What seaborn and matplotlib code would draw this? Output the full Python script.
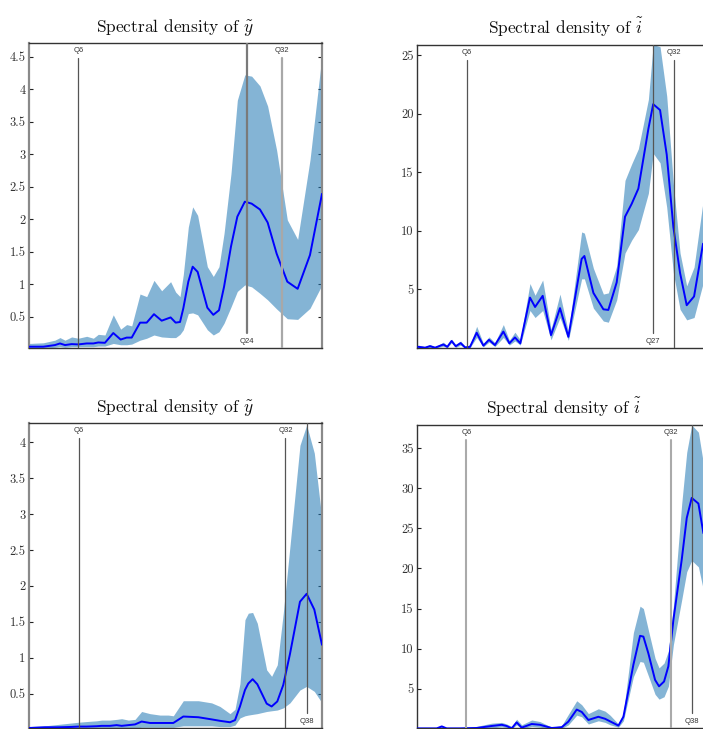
import numpy as np
import matplotlib
matplotlib.use("Agg")
import matplotlib.pyplot as plt
import matplotlib.ticker as mticker
import matplotlib.transforms as mtransforms
import seaborn as sns

# ---------------- data (periods in quarters, log-spaced x axis) ----------------
tl_period = [4.0, 4.5, 4.95, 5.16, 5.38, 5.68, 6.0, 6.43, 6.79, 7.07, 7.47, 8.0, 8.5, 8.93,
             9.31, 9.97, 10.53, 11.18, 11.91, 12.82, 13.36, 13.85, 14.23, 14.83, 15.37, 16.01,
             17.34, 18.21, 19.08, 19.89, 21.06, 22.19, 23.6, 24.96, 26.73, 28.47, 30.66, 33.47,
             36.44, 40.33, 44.52]
tl_median = [0.04, 0.04, 0.065, 0.09, 0.065, 0.08, 0.075, 0.09, 0.09, 0.105, 0.10, 0.25, 0.15, 0.18,
             0.18, 0.41, 0.41, 0.54, 0.44, 0.49, 0.41, 0.42, 0.63, 1.04, 1.27, 1.19,
             0.64, 0.53, 0.60, 0.96, 1.58, 2.04, 2.27, 2.24, 2.15, 1.95, 1.47, 1.04,
             0.93, 1.45, 2.39]
tl_upper = [0.09, 0.10, 0.14, 0.18, 0.14, 0.19, 0.17, 0.20, 0.17, 0.23, 0.22, 0.53, 0.31, 0.38,
            0.36, 0.85, 0.81, 1.06, 0.90, 1.04, 0.88, 0.81, 1.15, 1.88, 2.19, 2.06,
            1.27, 1.12, 1.27, 1.78, 2.70, 3.83, 4.22, 4.20, 4.05, 3.74, 3.06, 1.99,
            1.69, 2.91, 4.52]
tl_lower = [0.02, 0.02, 0.03, 0.04, 0.03, 0.04, 0.04, 0.04, 0.04, 0.05, 0.05, 0.09, 0.07, 0.07,
            0.08, 0.14, 0.17, 0.22, 0.19, 0.18, 0.18, 0.23, 0.30, 0.55, 0.56, 0.53,
            0.30, 0.22, 0.27, 0.40, 0.65, 0.89, 0.99, 0.96, 0.86, 0.76, 0.62, 0.47,
            0.46, 0.63, 0.99]

tr_period = [4.04, 4.27, 4.44, 4.63, 4.95, 5.11, 5.29, 5.47, 5.69, 5.90, 6.14, 6.48, 6.84, 7.16,
             7.51, 8.04, 8.44, 8.83, 9.22, 9.97, 10.39, 11.05, 11.82, 12.71, 13.60, 15.14,
             15.48, 16.65, 18.05, 18.79, 20.10, 21.50, 22.69, 23.95, 25.97, 27.0, 28.54,
             30.12, 31.79, 33.55, 35.40, 37.57, 40.40]
tr_median = [0.10, 0.03, 0.16, 0.03, 0.30, 0.10, 0.60, 0.15, 0.42, 0.05, 0.10, 1.30, 0.20, 0.70,
             0.25, 1.40, 0.40, 0.90, 0.40, 4.30, 3.50, 4.45, 1.10, 3.40, 0.95, 7.60,
             7.85, 4.70, 3.30, 3.25, 5.60, 11.20, 12.30, 13.60, 18.70, 20.80, 20.30,
             16.50, 10.30, 6.40, 3.65, 4.40, 8.90]
tr_upper = [0.25, 0.10, 0.30, 0.10, 0.50, 0.20, 0.75, 0.30, 0.60, 0.15, 0.25, 1.85, 0.40, 0.95,
            0.45, 2.00, 0.65, 1.35, 0.70, 5.50, 4.50, 5.80, 1.60, 4.60, 1.35, 9.90,
            9.80, 6.80, 4.60, 4.70, 7.00, 14.30, 15.70, 17.00, 21.20, 25.90, 25.70,
            21.50, 14.00, 8.10, 5.30, 6.90, 12.50]
tr_lower = [0.02, 0.0, 0.05, 0.0, 0.15, 0.03, 0.45, 0.05, 0.25, 0.0, 0.03, 0.90, 0.10, 0.50,
            0.12, 0.90, 0.25, 0.60, 0.25, 3.20, 2.60, 3.20, 0.70, 2.60, 0.65, 5.90,
            5.90, 3.40, 2.30, 2.20, 4.10, 8.10, 9.20, 10.10, 13.20, 16.60, 15.80,
            12.00, 6.40, 3.30, 2.40, 2.60, 5.50]

bl_period = [4.0, 4.55, 5.07, 5.65, 5.97, 6.38, 6.92, 7.21, 7.71, 8.14, 8.48, 8.95, 9.45, 9.97,
             10.67, 11.57, 12.38, 12.89, 13.98, 15.79, 17.59, 18.82, 19.60, 20.41, 21.26,
             22.13, 23.05, 23.68, 24.52, 25.47, 27.48, 28.61, 29.95, 31.44, 33.19, 36.0,
             38.0, 40.44, 43.04]
bl_median = [0.02, 0.03, 0.03, 0.035, 0.04, 0.04, 0.045, 0.05, 0.05, 0.06, 0.05, 0.06, 0.07, 0.11,
             0.09, 0.09, 0.09, 0.09, 0.18, 0.17, 0.14, 0.12, 0.11, 0.10, 0.13,
             0.32, 0.55, 0.64, 0.70, 0.63, 0.36, 0.32, 0.39, 0.62, 1.05, 1.78,
             1.89, 1.67, 1.18]
bl_upper = [0.04, 0.05, 0.07, 0.09, 0.10, 0.11, 0.12, 0.13, 0.13, 0.14, 0.15, 0.13, 0.14, 0.25,
            0.22, 0.20, 0.20, 0.19, 0.40, 0.40, 0.37, 0.32, 0.27, 0.22, 0.28,
            0.64, 1.53, 1.62, 1.63, 1.48, 0.83, 0.74, 0.90, 1.62, 2.55, 3.96,
            4.24, 3.85, 2.92]
bl_lower = [0.0, 0.0, 0.0, 0.01, 0.01, 0.01, 0.01, 0.01, 0.01, 0.02, 0.01, 0.02, 0.02, 0.03,
            0.03, 0.03, 0.03, 0.03, 0.05, 0.05, 0.05, 0.04, 0.04, 0.04, 0.06,
            0.16, 0.19, 0.20, 0.21, 0.22, 0.25, 0.26, 0.27, 0.30, 0.37, 0.55,
            0.60, 0.53, 0.37]

br_period = [4.0, 4.33, 4.70, 4.90, 5.10, 5.69, 6.52, 7.37, 8.01, 8.34, 8.69, 9.05, 9.43, 10.24,
             10.96, 12.06, 13.09, 13.83, 14.81, 15.43, 16.29, 17.68, 18.68, 19.46, 20.84,
             21.71, 23.56, 24.88, 25.57, 26.64, 28.14, 29.07, 30.29, 31.38, 32.70, 35.01,
             36.48, 38.0, 40.14, 41.82]
br_median = [0.05, 0.05, 0.05, 0.30, 0.05, 0.05, 0.10, 0.35, 0.50, 0.35, 0.05, 0.80, 0.15, 0.60,
             0.50, 0.10, 0.20, 0.90, 2.40, 2.10, 1.10, 1.50, 1.25, 0.93, 0.40,
             1.50, 8.00, 11.60, 11.50, 9.40, 6.10, 5.30, 5.90, 7.80, 13.60, 21.10,
             26.30, 28.80, 28.10, 24.40]
br_upper = [0.10, 0.10, 0.10, 0.40, 0.15, 0.15, 0.30, 0.70, 0.80, 0.60, 0.30, 1.20, 0.50, 1.10,
            0.90, 0.20, 0.40, 1.80, 3.50, 3.00, 1.90, 2.50, 2.20, 1.70, 0.60,
            2.00, 12.00, 15.30, 15.00, 12.30, 8.80, 7.60, 8.20, 9.70, 15.30, 28.10,
            34.50, 37.90, 37.00, 33.10]
br_lower = [0.0, 0.0, 0.0, 0.15, 0.0, 0.0, 0.0, 0.10, 0.25, 0.15, 0.0, 0.50, 0.0, 0.30,
            0.20, 0.0, 0.05, 0.50, 1.70, 1.50, 0.60, 1.00, 0.80, 0.50, 0.20,
            1.00, 6.50, 8.40, 8.30, 6.60, 4.30, 3.70, 4.00, 5.30, 10.50, 16.10,
            19.60, 21.00, 20.20, 17.30]

titles = [r"Spectral density of $\tilde{y}$", r"Spectral density of $\tilde{i}$",
          r"Spectral density of $\tilde{y}$", r"Spectral density of $\tilde{i}$"]
yticks_tl = [0.5, 1, 1.5, 2, 2.5, 3, 3.5, 4, 4.5]
yticks_tr = [5, 10, 15, 20, 25]
yticks_bl = [0.5, 1, 1.5, 2, 2.5, 3, 3.5, 4]
yticks_br = [5, 10, 15, 20, 25, 30, 35]
marks_tl = [("Q6", 6, "top"), ("Q24", 24, "bottom"), ("Q32", 32, "top")]
marks_tr = [("Q6", 6, "top"), ("Q27", 27, "bottom"), ("Q32", 32, "top")]
marks_bl = [("Q6", 6, "top"), ("Q32", 32, "top"), ("Q38", 38, "bottom")]
marks_br = [("Q6", 6, "top"), ("Q32", 32, "top"), ("Q38", 38, "bottom")]

# ---------------- style ----------------
sns.set_theme(style="white")
plt.rcParams["font.family"] = ["cmr10", "DejaVu Serif"]
plt.rcParams["mathtext.fontset"] = "cm"
plt.rcParams["axes.formatter.use_mathtext"] = True
plt.rcParams["axes.unicode_minus"] = False

W, H = 703, 729
fig = plt.figure(figsize=(W / 100, H / 100), dpi=100)


def make_ax(left, top, width, bottom):
    return fig.add_axes([left / W, 1 - bottom / H, width / W, (bottom - top) / H])


panels = [
    dict(box=(29, 43, 293, 348), x=tl_period, m=tl_median, lo=tl_lower, hi=tl_upper,
         xlim=(4.0, 44.52), ylim=(0.02, 4.71), yt=yticks_tl, marks=marks_tl,
         mstyle=[("#555555", 0.9), ("#7a7a7a", 1.6), ("#a8a8a8", 1.6)], side="#8a8a8a", sidew=1.6),
    dict(box=(417, 45, 298, 348), x=tr_period, m=tr_median, lo=tr_lower, hi=tr_upper,
         xlim=(4.0, 44.5), ylim=(0.0, 25.85), yt=yticks_tr, marks=marks_tr,
         mstyle=[("#555555", 0.9), ("#555555", 0.9), ("#555555", 0.9)], side="#333333", sidew=1.0),
    dict(box=(29, 423, 293, 728), x=bl_period, m=bl_median, lo=bl_lower, hi=bl_upper,
         xlim=(4.0, 43.04), ylim=(0.02, 4.27), yt=yticks_bl, marks=marks_bl,
         mstyle=[("#555555", 0.9), ("#555555", 0.9), ("#555555", 0.9)], side="#8a8a8a", sidew=1.6),
    dict(box=(417, 425, 294, 728), x=br_period, m=br_median, lo=br_lower, hi=br_upper,
         xlim=(4.0, 44.5), ylim=(0.1, 37.9), yt=yticks_br, marks=marks_br,
         mstyle=[("#aaaaaa", 1.5), ("#aaaaaa", 1.5), ("#555555", 0.9)], side="#333333", sidew=1.0),
]

for p, title in zip(panels, titles):
    ax = make_ax(*p["box"])
    ax.set_xscale("log")
    ax.fill_between(p["x"], p["lo"], p["hi"], color="#1f77b4", alpha=0.55, lw=0, zorder=1)
    sns.lineplot(x=p["x"], y=p["m"], ax=ax, color="#0000ff", lw=1.4,
                 estimator=None, sort=False, zorder=3)
    ax.set_xlim(*p["xlim"])
    ax.set_ylim(*p["ylim"])
    ax.xaxis.set_major_locator(mticker.NullLocator())
    ax.xaxis.set_minor_locator(mticker.NullLocator())
    ax.set_yticks(p["yt"])
    ax.yaxis.set_major_formatter(mticker.FuncFormatter(lambda v, _: f"{v:g}"))
    ax.tick_params(axis="y", direction="in", left=True, right=True, length=3, width=0.8,
                   pad=2.5, labelsize=9, colors="#222222", labelcolor="#333333")
    ax.set_xlabel("")
    ax.set_ylabel("")
    for s in ("top", "bottom"):
        ax.spines[s].set_color("#333333")
        ax.spines[s].set_linewidth(1.0)
    for s in ("left", "right"):
        ax.spines[s].set_color(p["side"])
        ax.spines[s].set_linewidth(p["sidew"])
    trans = mtransforms.blended_transform_factory(ax.transData, ax.transAxes)
    for (lab, xv, pos), (col, lw) in zip(p["marks"], p["mstyle"]):
        if pos == "top":
            ax.axvline(xv, ymin=0, ymax=0.95, color=col, lw=lw, zorder=4)
            ax.text(xv, 0.975, lab, transform=trans, ha="center", va="center",
                    fontsize=5.5, family=["Liberation Sans", "DejaVu Sans"], color="#333333")
        else:
            ax.axvline(xv, ymin=0.048, ymax=1, color=col, lw=lw, zorder=4)
            ax.text(xv, 0.022, lab, transform=trans, ha="center", va="center",
                    fontsize=5.5, family=["Liberation Sans", "DejaVu Sans"], color="#333333")
    ax.set_title(title, fontsize=12.5, pad=8, color="#111111")

fig.savefig("out.png", dpi=100)
